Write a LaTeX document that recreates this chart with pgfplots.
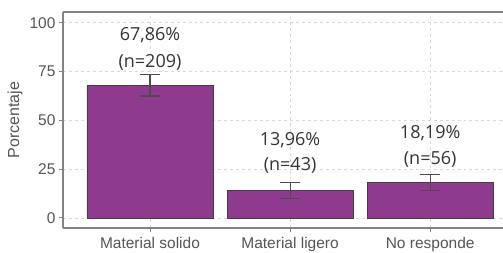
\documentclass[border=0pt]{standalone}
\usepackage{pgfplots}
\pgfplotsset{compat=1.18}
\usepackage{fontspec}
\setmainfont{Liberation Sans}
\newfontfamily\annotfont{Open Sans}
\definecolor{barpurple}{RGB}{142,58,142}
\definecolor{ticktext}{RGB}{85,85,85}
\definecolor{axisgray}{RGB}{130,130,130}
\begin{document}
\begin{tikzpicture}
\begin{axis}[
  scale only axis,
  width=440bp, height=216bp,
  xmin=0.379, xmax=3.52,
  ymin=-5.2, ymax=105.5,
  axis x line=box, axis y line=left,
  y axis line style={-},
  axis line style={axisgray, line width=1.2bp},
  xtick={1,2,3},
  xticklabels={Material solido, Material ligero, No responde},
  ytick={0,25,50,75,100},
  tick pos=left,
  tick align=outside,
  major tick length=4bp,
  tick style={axisgray, line width=0.8bp},
  grid=major,
  grid style={dashed, gray!30, line width=0.6bp},
  /pgf/number format/assume math mode=true,
  ticklabel style={font=\fontsize{15.5bp}{18bp}\selectfont, text=ticktext},
  xticklabel style={yshift=-1.5bp},
  ylabel={Porcentaje},
  every axis y label/.style={at={(axis description cs:0,0.5)}, xshift=-48bp, rotate=90, anchor=center, font=\fontsize{16bp}{18bp}\selectfont, text=ticktext},
  clip=false,
]
\addplot[ybar, bar width=0.9, bar shift=0pt, fill=barpurple, draw=black!75, line width=0.6bp,
  error bars/.cd, y dir=both, y explicit,
  error bar style={black!70, line width=1.1bp},
  error mark options={rotate=90, mark size=10bp, black!70, line width=1.1bp}]
  table[x=x, y=y, y error=e] {
x y e
1 67.86 5.4
2 13.96 4.2
3 18.19 4.2
};
\addplot[draw=none, mark=none, nodes near coords, point meta=explicit symbolic,
  every node near coord/.style={anchor=center, inner sep=0pt, text=black!80, font=\annotfont\fontsize{18bp}{20bp}\selectfont}]
  table[x=x, y=y, meta=lab] {
x y lab
1 93.7 67,86\%
2 39.9 13,96\%
3 43.5 18,19\%
};
\addplot[draw=none, mark=none, nodes near coords, point meta=explicit symbolic,
  every node near coord/.style={anchor=center, inner sep=0pt, text=black!80, font=\annotfont\fontsize{18bp}{20bp}\selectfont}]
  table[x=x, y=y, meta=lab] {
x y lab
1 79.9 (n=209)
2 27.1 (n=43)
3 29.7 (n=56)
};
\end{axis}
\pgfresetboundingbox
\path ([xshift=-63bp,yshift=-25bp]current axis.south west) rectangle ([yshift=12bp]current axis.north east);
\end{tikzpicture}
\end{document}
